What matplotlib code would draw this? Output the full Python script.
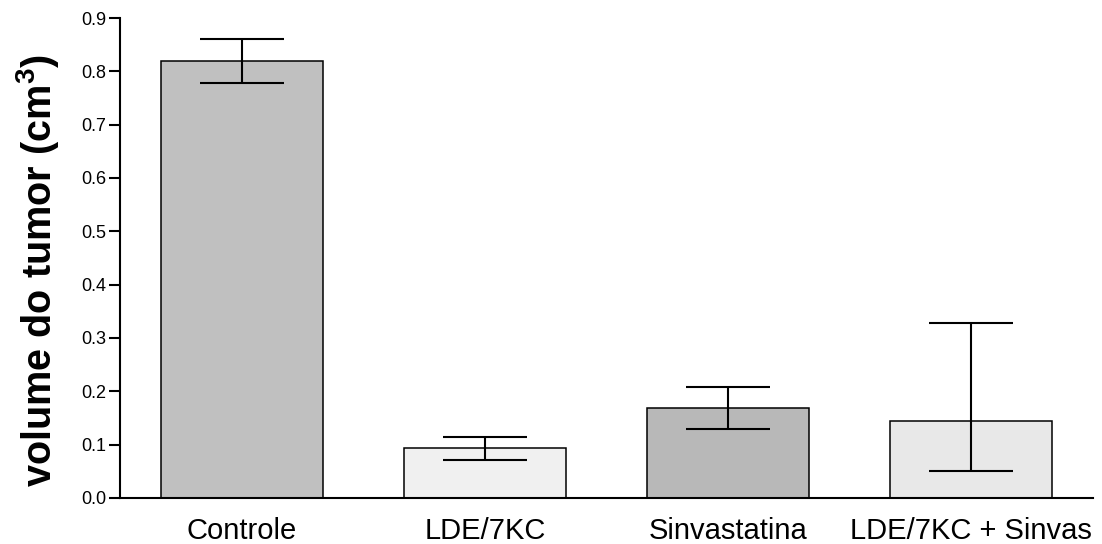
import matplotlib
matplotlib.use("Agg")
import matplotlib.pyplot as plt
import numpy as np

categories = ["Controle", "LDE/7KC", "Sinvastatina", "LDE/7KC + Sinvas"]
means = [0.820, 0.093, 0.168, 0.145]
err_low = [0.041, 0.022, 0.038, 0.094]
err_high = [0.041, 0.022, 0.041, 0.184]
colors = ["#c0c0c0", "#f0f0f0", "#b8b8b8", "#e8e8e8"]
yticks = [0.0, 0.1, 0.2, 0.3, 0.4, 0.5, 0.6, 0.7, 0.8, 0.9]

plt.rcParams['font.family'] = ['Liberation Sans', 'DejaVu Sans']
plt.rcParams['mathtext.fontset'] = 'custom'
plt.rcParams['mathtext.rm'] = 'Liberation Sans'
plt.rcParams['mathtext.bf'] = 'Liberation Sans:bold'

fig = plt.figure(figsize=(11.02, 5.44), dpi=100)
ax = fig.add_axes([0.1089, 0.0846, 0.8829, 0.8823])

x = np.arange(len(categories))
ax.bar(x, means, width=0.667, color=colors, edgecolor="black", linewidth=1.1, zorder=2)
ax.errorbar(x, means, yerr=[err_low, err_high], fmt="none", ecolor="black",
            elinewidth=1.5, capsize=30, capthick=1.5, zorder=3)

ax.set_xlim(-0.5, 3.5)
ax.set_ylim(0, 0.9)
ax.set_yticks(yticks)
ax.set_yticklabels([f"{v:.1f}" for v in yticks], fontsize=13)
ax.set_xticks(x)
ax.set_xticklabels(categories, fontsize=21)
ax.tick_params(axis='x', length=0, pad=14)
ax.tick_params(axis='y', length=8, width=1.5, pad=2)
for s in ["top", "right"]:
    ax.spines[s].set_visible(False)
for s in ["left", "bottom"]:
    ax.spines[s].set_linewidth(1.5)

ax.set_ylabel(r"volume do tumor (cm$^{\mathbf{3}}$)", fontsize=28.5, fontweight="bold")
ax.yaxis.set_label_coords(-0.061, 0.475)

fig.savefig("out.png", dpi=100)
